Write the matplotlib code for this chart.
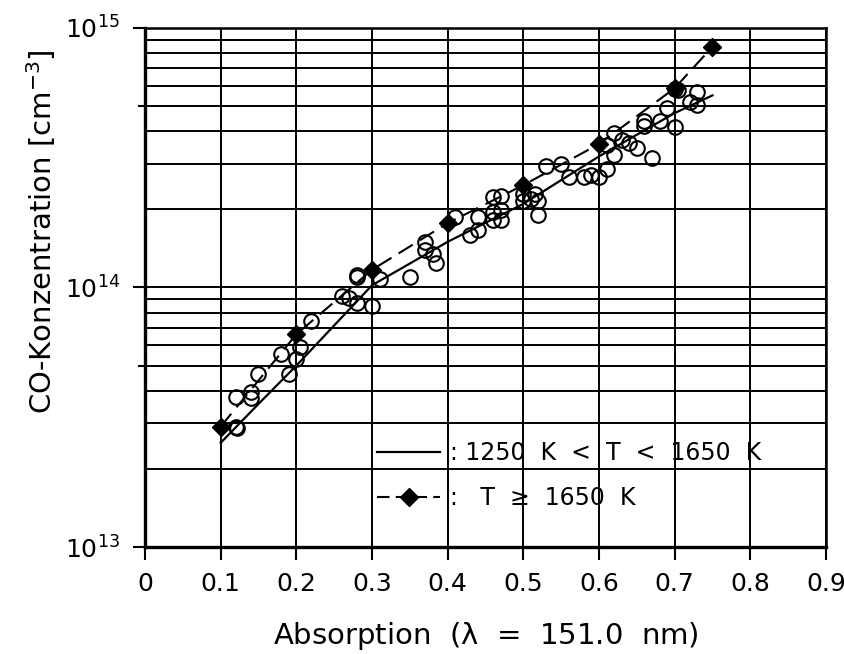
import numpy as np
import matplotlib.pyplot as plt
from matplotlib.lines import Line2D
from matplotlib.ticker import FixedLocator, NullFormatter

plt.rcParams['font.family'] = ['DejaVu Sans']

# measured points, 1250 K < T < 1650 K (open circles)
circle_x = [0.120, 0.122, 0.120, 0.140, 0.140, 0.150, 0.180, 0.190, 0.200, 0.205,
            0.220, 0.260, 0.270, 0.280, 0.280, 0.280, 0.300, 0.310, 0.350, 0.370,
            0.370, 0.380, 0.385, 0.410, 0.430, 0.440, 0.440, 0.460, 0.470, 0.460,
            0.470, 0.460, 0.470, 0.500, 0.500, 0.510, 0.520, 0.515, 0.520, 0.530,
            0.550, 0.560, 0.580, 0.590, 0.600, 0.610, 0.610, 0.620, 0.620, 0.630,
            0.640, 0.650, 0.660, 0.660, 0.670, 0.680, 0.690, 0.700, 0.700, 0.705,
            0.720, 0.730, 0.730]
circle_y = [2.90e13, 2.88e13, 3.80e13, 3.95e13, 3.75e13, 4.65e13, 5.55e13, 4.65e13, 5.30e13, 5.90e13,
            7.45e13, 9.30e13, 9.10e13, 8.70e13, 1.12e14, 1.10e14, 8.50e13, 1.08e14, 1.10e14, 1.50e14,
            1.40e14, 1.35e14, 1.24e14, 1.87e14, 1.60e14, 1.67e14, 1.87e14, 2.23e14, 2.25e14, 1.96e14,
            1.82e14, 1.82e14, 1.99e14, 2.30e14, 2.15e14, 2.20e14, 2.15e14, 2.30e14, 1.90e14, 2.93e14,
            3.00e14, 2.67e14, 2.67e14, 2.72e14, 2.67e14, 2.85e14, 3.55e14, 3.95e14, 3.24e14, 3.70e14,
            3.62e14, 3.45e14, 4.40e14, 4.20e14, 3.15e14, 4.40e14, 4.90e14, 4.17e14, 5.80e14, 5.75e14,
            5.20e14, 5.65e14, 5.05e14]

# fitted curve for 1250 K < T < 1650 K (solid)
fit_x = [0.10, 0.15, 0.20, 0.30, 0.40, 0.50, 0.60, 0.70, 0.75]
fit_y = [2.52e13, 3.56e13, 5.0e13, 1.02e14, 1.50e14, 2.10e14, 3.20e14, 4.70e14, 5.50e14]

# T >= 1650 K (dashed with diamonds)
hot_x = [0.10, 0.20, 0.30, 0.40, 0.50, 0.60, 0.70, 0.75]
hot_y = [2.91e13, 6.6e13, 1.17e14, 1.77e14, 2.48e14, 3.57e14, 5.86e14, 8.47e14]

x_ticks = [0, 0.1, 0.2, 0.3, 0.4, 0.5, 0.6, 0.7, 0.8, 0.9]
x_labels = ['0', '0.1', '0.2', '0.3', '0.4', '0.5', '0.6', '0.7', '0.8', '0.9']
y_ticks = [1e13, 1e14, 1e15]
y_labels = [r'$\mathregular{10^{13}}$', r'$\mathregular{10^{14}}$', r'$\mathregular{10^{15}}$']

fig = plt.figure(figsize=(8.45, 6.54), dpi=100)
ax = fig.add_axes([0.1716, 0.1636, 0.8059, 0.7936])

ax.set_yscale('log')
ax.set_xlim(0, 0.9)
ax.set_ylim(1e13, 1e15)

# grid: every 0.1 in x, every 1..9 per decade in y
grid_y = [m * 10.0 ** e for e in (13, 14) for m in range(2, 10)]
for gx in x_ticks[1:]:
    ax.axvline(gx, color='black', lw=1.4, zorder=1)
for gy in grid_y + [1e14]:
    ax.axhline(gy, color='black', lw=1.4, zorder=1)

ax.plot(fit_x, fit_y, color='black', lw=1.6, zorder=3)
ax.plot(hot_x, hot_y, color='black', lw=1.5, ls=(0, (8, 4)),
        marker='D', markersize=9, markerfacecolor='black', zorder=4)
ax.plot(circle_x, circle_y, ls='none', marker='o', markersize=10.5,
        markerfacecolor='none', markeredgecolor='black', markeredgewidth=1.5, zorder=3)

ax.set_xticks(x_ticks)
ax.set_xticklabels(x_labels)
ax.yaxis.set_major_locator(FixedLocator(y_ticks))
ax.set_yticklabels(y_labels)
ax.yaxis.set_minor_locator(FixedLocator([5e13, 5e14]))
ax.yaxis.set_minor_formatter(NullFormatter())
ax.xaxis.set_minor_locator(FixedLocator([]))

ax.tick_params(axis='both', which='major', direction='out', length=9, width=1.5,
               labelsize=18, pad=9, color='black')
ax.tick_params(axis='y', which='minor', direction='out', length=5, width=1.5)

for side in ['left', 'bottom']:
    ax.spines[side].set_linewidth(2.4)
for side in ['right', 'top']:
    ax.spines[side].set_linewidth(1.8)

ax.set_xlabel(r'Absorption  ($\mathregular{\lambda}$  =  151.0  nm)', fontsize=21, labelpad=17)
ax.set_ylabel(r'CO-Konzentration [cm$\mathregular{^{-3}}$]', fontsize=21)
ax.yaxis.set_label_coords(-0.128, 0.607)

handles = [Line2D([], [], color='black', lw=1.6),
           Line2D([], [], color='black', lw=1.5, ls=(0, (6, 3)), marker='D',
                  markersize=9, markerfacecolor='black')]
labels = [': 1250  K  <  T  <  1650  K', ':   T  \u2265  1650  K']
ax.legend(handles, labels, loc='lower left', bbox_to_anchor=(0.309, 0.03),
          frameon=False, fontsize=17, handlelength=2.7, handletextpad=0.4,
          labelspacing=0.9, numpoints=1)

fig.savefig('out.png', dpi=100)
